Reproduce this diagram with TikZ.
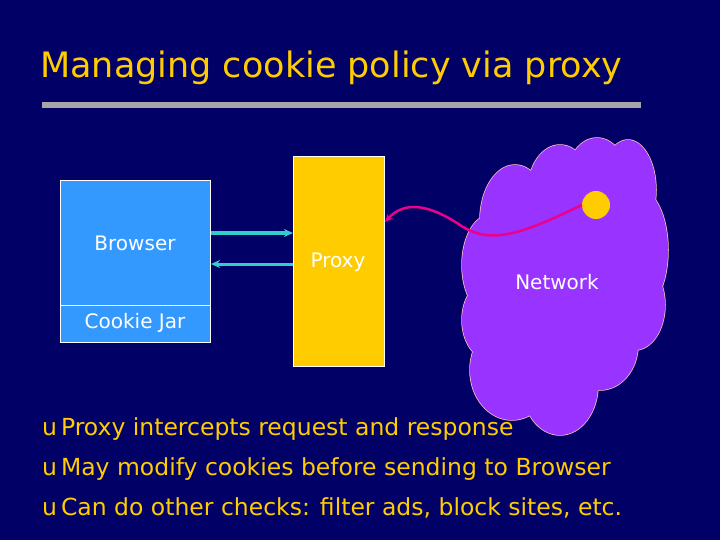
\documentclass[tikz,border=0pt]{standalone}
\usepackage{fontspec}
\setmainfont{DejaVu Sans}
\usetikzlibrary{arrows.meta}
\begin{document}
\begin{tikzpicture}[x=1pt,y=-1pt,
  lbl/.style={text=white,font=\fontsize{20}{24}\selectfont},
  arr/.style={draw=arrc,line width=3pt,-{Stealth[length=9pt,width=8pt]}},
  bul/.style={anchor=base west,text=gold,font=\fontsize{23.5}{28}\selectfont,inner sep=0}]
\definecolor{bg}{HTML}{000066}
\definecolor{purp}{HTML}{9933FF}
\definecolor{gold}{HTML}{FFCC00}
\definecolor{arrc}{HTML}{33CCCC}
\definecolor{brc}{HTML}{3399FF}
\fill[bg] (0,0) rectangle (720,540);
\useasboundingbox (0,0) rectangle (720,540);
\node[anchor=base west,text=gold,font=\fontsize{35}{40}\selectfont,inner sep=0] (title) at (40,78) {Managing cookie policy via proxy};
\fill[gray!70] (42,102) rectangle (641,108);
% browser
\node[draw=white,thin,fill=brc,minimum width=150pt,minimum height=162pt,anchor=north west,inner sep=0] (br) at (60,180) {};
\draw[white,thin] (60,305) -- (210,305);
\node[lbl] (bt) at (135,243) {Browser};
\node[lbl] (cj) at (135,323) {Cookie Jar};
% proxy
\node[draw=white,thin,fill=gold,minimum width=91pt,minimum height=210pt,anchor=north west,inner sep=0] (px) at (293,156) {};
\node[lbl] (pt) at (338,262) {Proxy};
\coordinate (a1) at (211,233); \coordinate (a2) at (293,233);
\coordinate (b1) at (293,264); \coordinate (b2) at (211,264);
\draw[arr] (a1) -- (a2);
\draw[arr] (b1) -- (b2);
% cloud
\def\bumps{(560,190) ellipse (32 and 45) (597,178) ellipse (30 and 40) (628,190) ellipse (28 and 50)
 (640,250) ellipse (28 and 60) (635,305) ellipse (30 and 45) (600,345) ellipse (38 and 45)
 (560,385) ellipse (38 and 50) (512,370) ellipse (42 and 50) (490,320) ellipse (28 and 40)
 (490,265) ellipse (28 and 50) (515,220) ellipse (35 and 55) (560,280) ellipse (80 and 100)}
\draw[pink,line width=1.5pt] \bumps;
\fill[purp] \bumps;
\node[lbl] (nt) at (557,282) {Network};
\node[circle,fill=gold,minimum size=28pt,inner sep=0] (dot) at (596,205) {};
\coordinate (pe) at (385,222);
\draw[magenta,line width=2.5pt,-{Stealth[length=8pt,width=7pt]}] (dot.west) .. controls (520,235) and (490,245) .. (460,225) .. controls (430,205) and (405,200) .. (pe);
% bullets
\node[bul] (l1) at (42,435) {u\,Proxy intercepts request and response};
\node[bul] (l2) at (42,475) {u\,May modify cookies before sending to Browser};
\node[bul] (l3) at (42,515) {u\,Can do other checks: filter ads, block sites, etc.};
\end{tikzpicture}
\end{document}
